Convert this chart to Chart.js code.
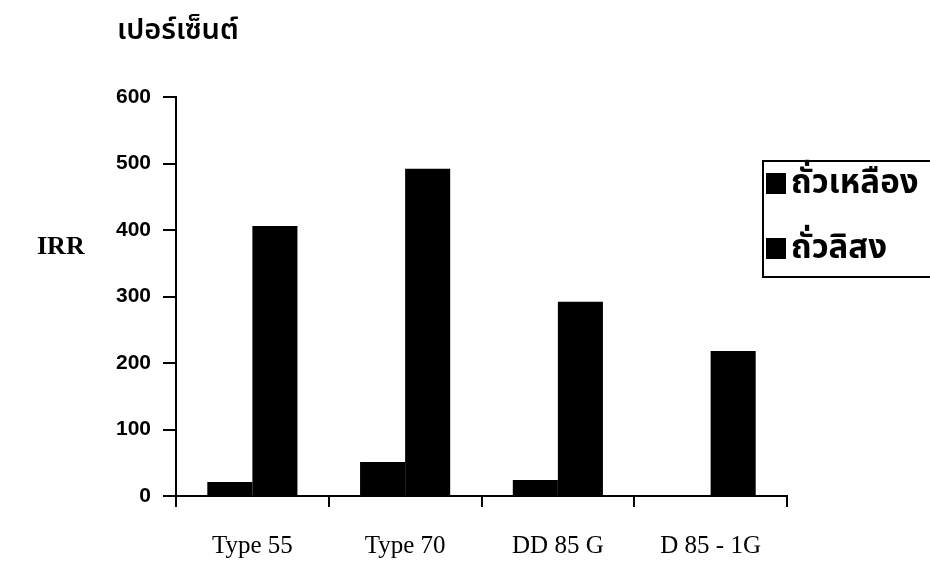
<!DOCTYPE html>
<html>
<head>
<meta charset="utf-8">
<script src="https://cdn.jsdelivr.net/npm/chart.js@4"></script>
<style>
  html, body { margin: 0; padding: 0; background: #fff; }
  #wrap { position: relative; width: 930px; height: 584px; overflow: hidden; }
  #chart { position: absolute; left: 0; top: 0; }
  .thai { font-family: "Noto Sans Thai", "Norasi", "Garuda", "Loma", "Tlwg Typo", "DejaVu Sans", sans-serif; color: #000; }
  #unit { position: absolute; left: 117px; top: 8px; font-size: 29px; font-weight: 600; }
  #irr { position: absolute; left: 37px; top: 231px; font: bold 26px "Liberation Serif", "DejaVu Serif", serif; color: #000; }
  #legend { position: absolute; left: 762px; top: 160px; width: 200px; height: 118px; border: 2px solid #000; box-sizing: border-box; }
  .item { position: absolute; left: 2px; display: flex; align-items: center; font-size: 33px; font-weight: bold; line-height: 42px; }
  .swatch { width: 20px; height: 21px; background: #000; margin-right: 5px; }
</style>
</head>
<body>
<div id="wrap">
  <canvas id="chart" width="930" height="584"></canvas>
  <div id="unit" class="thai">เปอร์เซ็นต์</div>
  <div id="irr">IRR</div>
  <div id="legend" class="thai"></div>
</div>
<script>
// IRR (%) by variety, soybean vs peanut
const categories = ['Type 55', 'Type 70', 'DD 85 G', 'D 85 - 1G'];
const seriesNames = ['ถั่วเหลือง', 'ถั่วลิสง'];
const soybean = [21, 51, 24, 1];
const peanut = [406, 492, 292, 218];
const yMin = 0, yMax = 600, yStep = 100;

// legend box (both series are solid black)
const legendEl = document.getElementById('legend');
const rowTops = [0, 65];
seriesNames.forEach((name, i) => {
    const row = document.createElement('div');
    row.className = 'item';
    row.style.top = rowTops[i] + 'px';
    row.innerHTML = '<span class="swatch"></span><span>' + name + '</span>';
    legendEl.appendChild(row);
});

const ctx = document.getElementById('chart').getContext('2d');
new Chart(ctx, {
    type: 'bar',
    data: {
        labels: categories,
        datasets: [
            { label: seriesNames[0], data: soybean, backgroundColor: '#000', borderWidth: 0 },
            { label: seriesNames[1], data: peanut, backgroundColor: '#000', borderWidth: 0 }
        ]
    },
    options: {
        responsive: false,
        animation: false,
        datasets: { bar: { categoryPercentage: 0.59, barPercentage: 1.0 } },
        layout: { padding: { left: 0, right: 143, top: 97, bottom: 0 } },
        plugins: { legend: { display: false }, tooltip: { enabled: false } },
        scales: {
            x: {
                afterFit: s => { s.height = 88; },
                grid: { offset: true, drawOnChartArea: false, color: '#000', lineWidth: 2, tickLength: 11 },
                border: { display: true, color: '#000', width: 2 },
                ticks: { color: '#000', padding: 24, font: { family: '"Liberation Serif", "DejaVu Serif", serif', size: 25 } }
            },
            y: {
                min: yMin,
                max: yMax,
                afterFit: s => { s.width = 176; },
                grid: { drawOnChartArea: false, color: '#000', lineWidth: 2, tickLength: 13 },
                border: { display: true, color: '#000', width: 2 },
                ticks: { stepSize: yStep, color: '#000', padding: 12, font: { family: '"Liberation Sans", Arial, sans-serif', size: 21, weight: 'bold' } }
            }
        }
    }
});
</script>
</body>
</html>
